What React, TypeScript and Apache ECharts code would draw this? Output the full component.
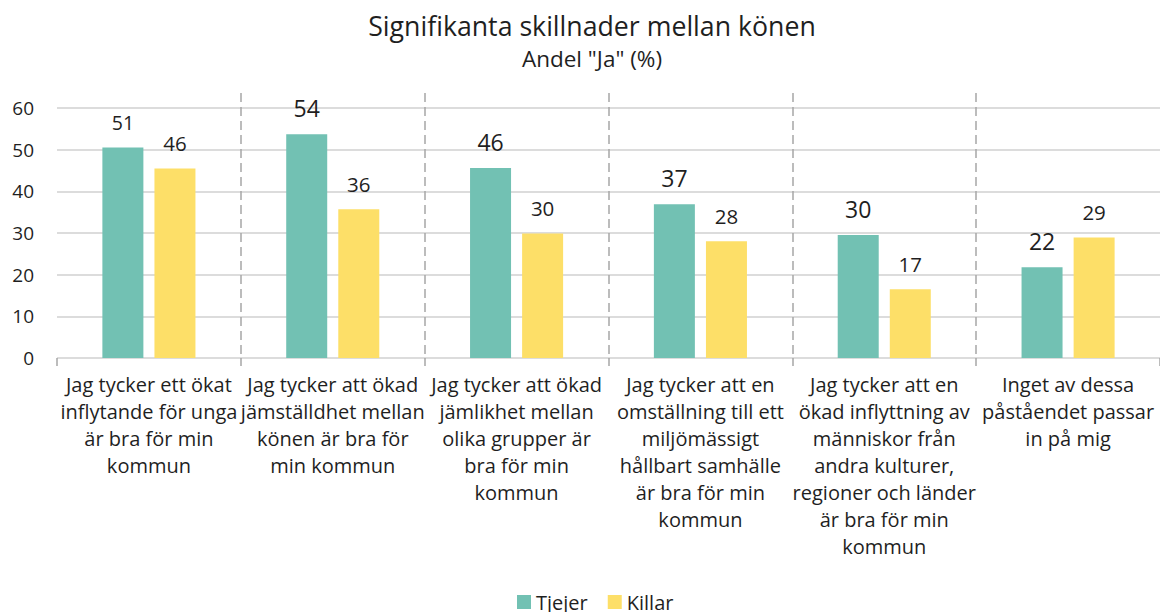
import React, { useEffect, useRef } from "react";
import * as echarts from "echarts";

const categories = [
  "Jag tycker ett ökat\ninflytande för unga\när bra för min\nkommun",
  "Jag tycker att ökad\njämställdhet mellan\nkönen är bra för\nmin kommun",
  "Jag tycker att ökad\njämlikhet mellan\nolika grupper är\nbra för min\nkommun",
  "Jag tycker att en\nomställning till ett\nmiljömässigt\nhållbart samhälle\när bra för min\nkommun",
  "Jag tycker att en\nökad inflyttning av\nmänniskor från\nandra kulturer,\nregioner och länder\när bra för min\nkommun",
  "Inget av dessa\npåståendet passar\nin på mig",
];
const tjejer = [50.5, 53.7, 45.6, 36.9, 29.5, 21.8];
const killar = [45.5, 35.7, 29.9, 28.0, 16.5, 28.9];
const yTicks = [0, 10, 20, 30, 40, 50, 60];

const FONT = "'Open Sans', 'Noto Sans', sans-serif";
const TEXT = "#1f1f1f";

export default function App() {
  const ref = useRef<HTMLDivElement>(null);
  useEffect(() => {
    document.body.style.margin = "0";
    const chart = echarts.init(ref.current!, undefined, { renderer: "svg" });
    chart.setOption({
      animation: false,
      textStyle: { fontFamily: FONT },
      title: {
        text: "Signifikanta skillnader mellan könen",
        subtext: 'Andel "Ja" (%)',
        left: 592,
        textAlign: "center",
        top: 12,
        padding: 0,
        itemGap: 8,
        textStyle: { fontFamily: FONT, fontSize: 26.7, fontWeight: "normal", color: TEXT },
        subtextStyle: { fontFamily: FONT, fontSize: 22.5, color: TEXT },
      },
      legend: {
        data: ["Tjejer", "Killar"],
        left: 517,
        top: 592,
        padding: 0,
        itemWidth: 14,
        itemHeight: 14,
        itemGap: 20,
        icon: "rect",
        textStyle: { fontFamily: FONT, fontSize: 20, color: TEXT },
      },
      grid: { left: 57, width: 1106, top: 93, bottom: 254, containLabel: false },
      xAxis: {
        type: "category",
        data: categories,
        axisLine: { show: false },
        axisTick: { show: true, length: 8, lineStyle: { color: "#a6a6a6", width: 1.5, type: [9, 5] } },
        splitLine: {
          show: true,
          showMinLine: false,
          showMaxLine: false,
          lineStyle: { color: "#a6a6a6", width: 1.5, type: [9, 5] },
        },
        axisLabel: {
          interval: 0,
          margin: 13,
          fontFamily: FONT,
          fontSize: 20,
          lineHeight: 27,
          color: TEXT,
          align: "center",
        },
      },
      yAxis: {
        type: "value",
        min: yTicks[0],
        max: 63.6,
        interval: 10,
        axisLine: { show: false },
        axisTick: { show: false },
        splitLine: { show: true, showMaxLine: false, lineStyle: { color: "#dcdcdc", width: 2 } },
        axisLabel: {
          margin: 23,
          fontFamily: FONT,
          fontSize: 19,
          color: TEXT,
          formatter: (v: number) => (yTicks.includes(v) ? String(v) : ""),
          showMaxLabel: false,
        },
      },
      series: [
        {
          name: "Tjejer",
          type: "bar",
          barWidth: 41,
          barGap: "27%",
          itemStyle: { color: "#72C1B3" },
          label: {
            show: true,
            position: "top",
            distance: 15,
            fontFamily: FONT,
            fontSize: 23,
            color: TEXT,
            formatter: (p: any) => String(Math.round(p.value)),
          },
          data: tjejer.map((v, i) => (i === 0 ? { value: v, label: { fontSize: 19.5 } } : v)),
        },
        {
          name: "Killar",
          type: "bar",
          barWidth: 41,
          itemStyle: { color: "#FDDF68" },
          label: {
            show: true,
            position: "top",
            distance: 15,
            fontFamily: FONT,
            fontSize: 20.5,
            color: TEXT,
            formatter: (p: any) => String(Math.round(p.value)),
          },
          data: killar,
        },
      ],
    });
    return () => chart.dispose();
  }, []);
  return <div ref={ref} style={{ width: 1160, height: 612 }} />;
}
